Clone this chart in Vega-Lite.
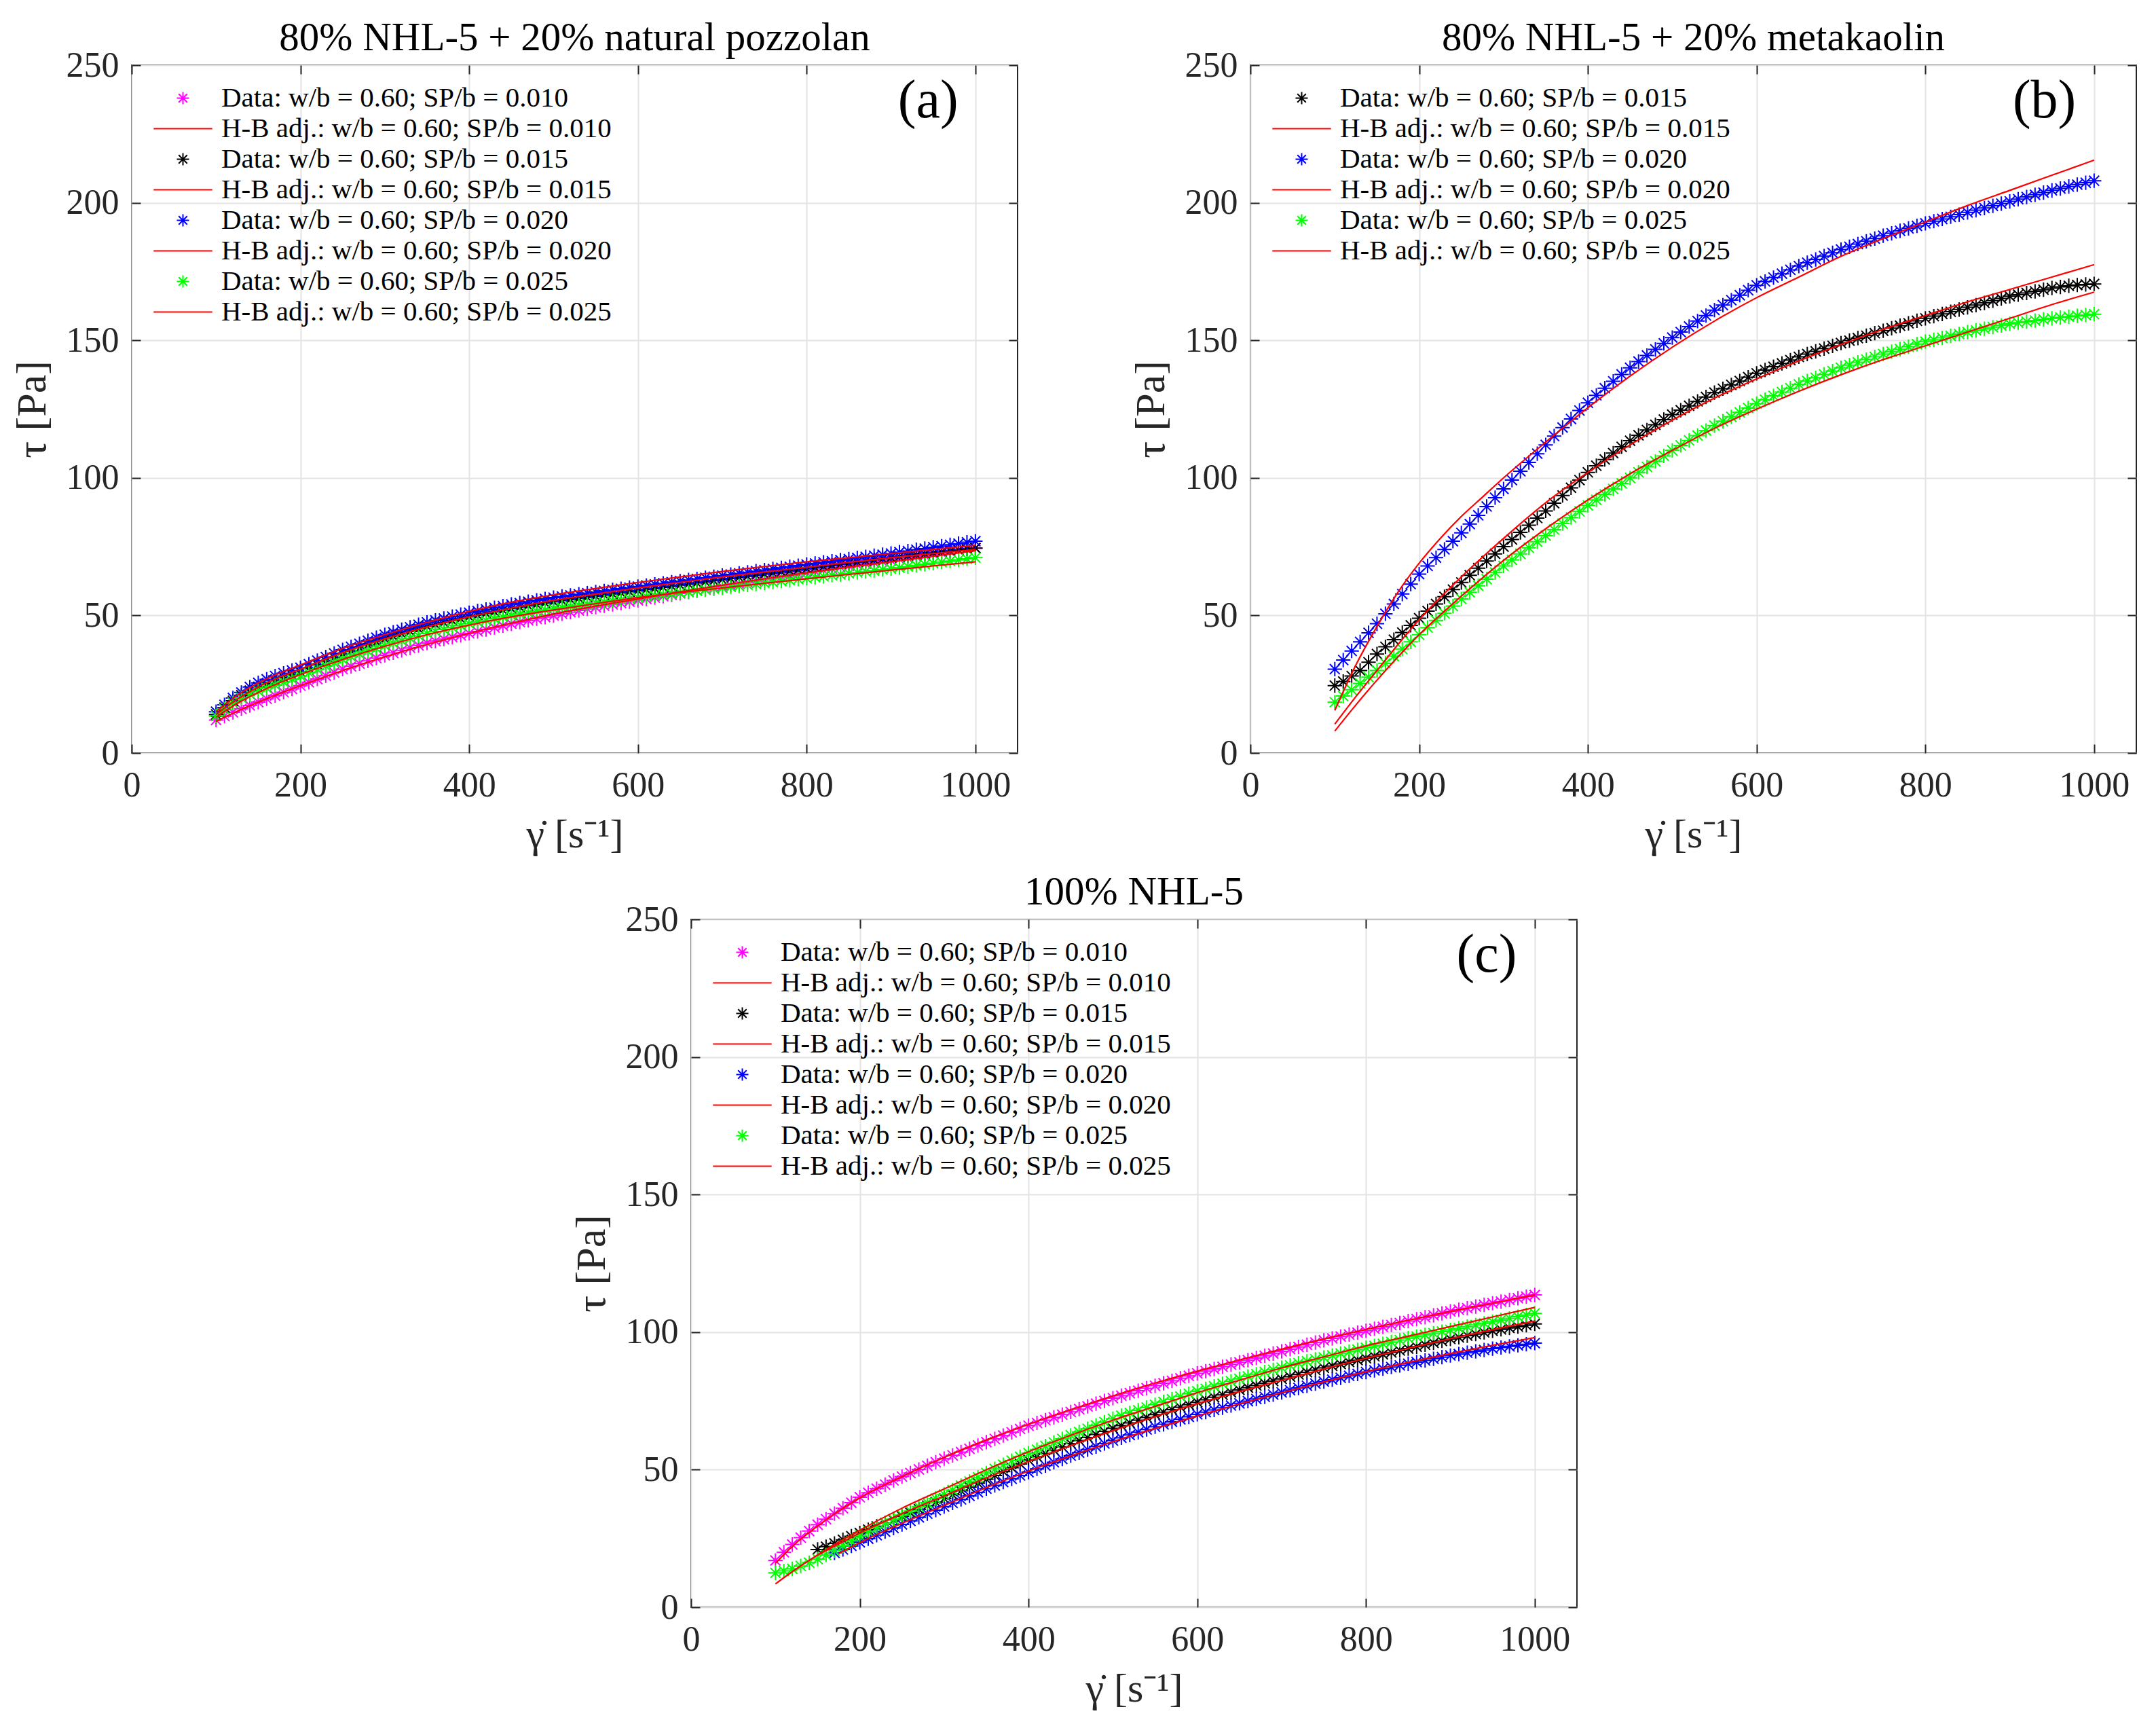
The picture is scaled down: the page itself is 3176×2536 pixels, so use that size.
{
  "$schema": "https://vega.github.io/schema/vega-lite/v6.json",
  "background": "white",
  "padding": {"left": 15, "top": 26, "right": 5, "bottom": 5},
  "datasets": {
    "aD": [
      {"s":"D010","x":100,"y":12},{"s":"D010","x":110,"y":13.4},{"s":"D010","x":120,"y":14.8},{"s":"D010","x":130,"y":16.1},{"s":"D010","x":140,"y":17.3},{"s":"D010","x":150,"y":18.5},{"s":"D010","x":160,"y":19.7},{"s":"D010","x":170,"y":20.9},{"s":"D010","x":180,"y":22.1},{"s":"D010","x":190,"y":23.3},
      {"s":"D010","x":200,"y":24.5},{"s":"D010","x":210,"y":25.7},{"s":"D010","x":220,"y":26.9},{"s":"D010","x":230,"y":28.1},{"s":"D010","x":240,"y":29.3},{"s":"D010","x":250,"y":30.5},{"s":"D010","x":260,"y":31.5},{"s":"D010","x":270,"y":32.5},{"s":"D010","x":280,"y":33.5},{"s":"D010","x":290,"y":34.5},
      {"s":"D010","x":300,"y":35.5},{"s":"D010","x":310,"y":36.4},{"s":"D010","x":320,"y":37.3},{"s":"D010","x":330,"y":38.2},{"s":"D010","x":340,"y":39.1},{"s":"D010","x":350,"y":40},{"s":"D010","x":360,"y":40.7},{"s":"D010","x":370,"y":41.4},{"s":"D010","x":380,"y":42.1},{"s":"D010","x":390,"y":42.8},
      {"s":"D010","x":400,"y":43.5},{"s":"D010","x":410,"y":44.2},{"s":"D010","x":420,"y":44.9},{"s":"D010","x":430,"y":45.6},{"s":"D010","x":440,"y":46.3},{"s":"D010","x":450,"y":47},{"s":"D010","x":460,"y":47.6},{"s":"D010","x":470,"y":48.2},{"s":"D010","x":480,"y":48.8},{"s":"D010","x":490,"y":49.4},
      {"s":"D010","x":500,"y":50},{"s":"D010","x":510,"y":50.6},{"s":"D010","x":520,"y":51.2},{"s":"D010","x":530,"y":51.8},{"s":"D010","x":540,"y":52.4},{"s":"D010","x":550,"y":53},{"s":"D010","x":560,"y":53.5},{"s":"D010","x":570,"y":54},{"s":"D010","x":580,"y":54.5},{"s":"D010","x":590,"y":55},
      {"s":"D010","x":600,"y":55.5},{"s":"D010","x":610,"y":56},{"s":"D010","x":620,"y":56.5},{"s":"D010","x":630,"y":57},{"s":"D010","x":640,"y":57.5},{"s":"D010","x":650,"y":58},{"s":"D010","x":660,"y":58.5},{"s":"D010","x":670,"y":59},{"s":"D010","x":680,"y":59.5},{"s":"D010","x":690,"y":60},
      {"s":"D010","x":700,"y":60.5},{"s":"D010","x":710,"y":61},{"s":"D010","x":720,"y":61.5},{"s":"D010","x":730,"y":62},{"s":"D010","x":740,"y":62.5},{"s":"D010","x":750,"y":63},{"s":"D010","x":760,"y":63.5},{"s":"D010","x":770,"y":64},{"s":"D010","x":780,"y":64.5},{"s":"D010","x":790,"y":65},
      {"s":"D010","x":800,"y":65.5},{"s":"D010","x":810,"y":66},{"s":"D010","x":820,"y":66.5},{"s":"D010","x":830,"y":67},{"s":"D010","x":840,"y":67.5},{"s":"D010","x":850,"y":68},{"s":"D010","x":860,"y":68.4},{"s":"D010","x":870,"y":68.8},{"s":"D010","x":880,"y":69.2},{"s":"D010","x":890,"y":69.6},
      {"s":"D010","x":900,"y":70},{"s":"D010","x":910,"y":70.5},{"s":"D010","x":920,"y":70.9},{"s":"D010","x":930,"y":71.4},{"s":"D010","x":940,"y":71.8},{"s":"D010","x":950,"y":72.3},{"s":"D010","x":960,"y":72.7},{"s":"D010","x":970,"y":73.2},{"s":"D010","x":980,"y":73.6},{"s":"D010","x":990,"y":74.1},{"s":"D010","x":1000,"y":74.5},

      {"s":"D015","x":100,"y":14},{"s":"D015","x":110,"y":16.5},{"s":"D015","x":120,"y":19},{"s":"D015","x":130,"y":21},{"s":"D015","x":140,"y":22.7},{"s":"D015","x":150,"y":24},{"s":"D015","x":160,"y":25.2},{"s":"D015","x":170,"y":26.3},{"s":"D015","x":180,"y":27.4},{"s":"D015","x":190,"y":28.4},
      {"s":"D015","x":200,"y":29.5},{"s":"D015","x":210,"y":30.8},{"s":"D015","x":220,"y":32.1},{"s":"D015","x":230,"y":33.4},{"s":"D015","x":240,"y":34.7},{"s":"D015","x":250,"y":36},{"s":"D015","x":260,"y":37.1},{"s":"D015","x":270,"y":38.2},{"s":"D015","x":280,"y":39.3},{"s":"D015","x":290,"y":40.4},
      {"s":"D015","x":300,"y":41.5},{"s":"D015","x":310,"y":42.4},{"s":"D015","x":320,"y":43.3},{"s":"D015","x":330,"y":44.2},{"s":"D015","x":340,"y":45.1},{"s":"D015","x":350,"y":46},{"s":"D015","x":360,"y":46.7},{"s":"D015","x":370,"y":47.4},{"s":"D015","x":380,"y":48.1},{"s":"D015","x":390,"y":48.8},
      {"s":"D015","x":400,"y":49.5},{"s":"D015","x":410,"y":50.1},{"s":"D015","x":420,"y":50.7},{"s":"D015","x":430,"y":51.3},{"s":"D015","x":440,"y":51.9},{"s":"D015","x":450,"y":52.5},{"s":"D015","x":460,"y":53},{"s":"D015","x":470,"y":53.5},{"s":"D015","x":480,"y":54},{"s":"D015","x":490,"y":54.5},
      {"s":"D015","x":500,"y":55},{"s":"D015","x":510,"y":55.4},{"s":"D015","x":520,"y":55.8},{"s":"D015","x":530,"y":56.2},{"s":"D015","x":540,"y":56.6},{"s":"D015","x":550,"y":57},{"s":"D015","x":560,"y":57.4},{"s":"D015","x":570,"y":57.8},{"s":"D015","x":580,"y":58.2},{"s":"D015","x":590,"y":58.6},
      {"s":"D015","x":600,"y":59},{"s":"D015","x":610,"y":59.4},{"s":"D015","x":620,"y":59.8},{"s":"D015","x":630,"y":60.2},{"s":"D015","x":640,"y":60.6},{"s":"D015","x":650,"y":61},{"s":"D015","x":660,"y":61.4},{"s":"D015","x":670,"y":61.8},{"s":"D015","x":680,"y":62.2},{"s":"D015","x":690,"y":62.6},
      {"s":"D015","x":700,"y":63},{"s":"D015","x":710,"y":63.4},{"s":"D015","x":720,"y":63.8},{"s":"D015","x":730,"y":64.2},{"s":"D015","x":740,"y":64.6},{"s":"D015","x":750,"y":65},{"s":"D015","x":760,"y":65.4},{"s":"D015","x":770,"y":65.8},{"s":"D015","x":780,"y":66.2},{"s":"D015","x":790,"y":66.6},
      {"s":"D015","x":800,"y":67},{"s":"D015","x":810,"y":67.4},{"s":"D015","x":820,"y":67.8},{"s":"D015","x":830,"y":68.2},{"s":"D015","x":840,"y":68.6},{"s":"D015","x":850,"y":69},{"s":"D015","x":860,"y":69.4},{"s":"D015","x":870,"y":69.8},{"s":"D015","x":880,"y":70.2},{"s":"D015","x":890,"y":70.6},
      {"s":"D015","x":900,"y":71},{"s":"D015","x":910,"y":71.4},{"s":"D015","x":920,"y":71.7},{"s":"D015","x":930,"y":72.1},{"s":"D015","x":940,"y":72.4},{"s":"D015","x":950,"y":72.8},{"s":"D015","x":960,"y":73.1},{"s":"D015","x":970,"y":73.5},{"s":"D015","x":980,"y":73.8},{"s":"D015","x":990,"y":74.2},{"s":"D015","x":1000,"y":74.5},

      {"s":"D020","x":100,"y":15},{"s":"D020","x":110,"y":17.5},{"s":"D020","x":120,"y":20},{"s":"D020","x":130,"y":22},{"s":"D020","x":140,"y":24},{"s":"D020","x":150,"y":25.5},{"s":"D020","x":160,"y":26.8},{"s":"D020","x":170,"y":28},{"s":"D020","x":180,"y":29},{"s":"D020","x":190,"y":30},
      {"s":"D020","x":200,"y":31},{"s":"D020","x":210,"y":32.3},{"s":"D020","x":220,"y":33.6},{"s":"D020","x":230,"y":34.9},{"s":"D020","x":240,"y":36.2},{"s":"D020","x":250,"y":37.5},{"s":"D020","x":260,"y":38.6},{"s":"D020","x":270,"y":39.7},{"s":"D020","x":280,"y":40.8},{"s":"D020","x":290,"y":41.9},
      {"s":"D020","x":300,"y":43},{"s":"D020","x":310,"y":43.9},{"s":"D020","x":320,"y":44.8},{"s":"D020","x":330,"y":45.7},{"s":"D020","x":340,"y":46.6},{"s":"D020","x":350,"y":47.5},{"s":"D020","x":360,"y":48.2},{"s":"D020","x":370,"y":48.9},{"s":"D020","x":380,"y":49.6},{"s":"D020","x":390,"y":50.3},
      {"s":"D020","x":400,"y":51},{"s":"D020","x":410,"y":51.6},{"s":"D020","x":420,"y":52.2},{"s":"D020","x":430,"y":52.8},{"s":"D020","x":440,"y":53.4},{"s":"D020","x":450,"y":54},{"s":"D020","x":460,"y":54.5},{"s":"D020","x":470,"y":55},{"s":"D020","x":480,"y":55.5},{"s":"D020","x":490,"y":56},
      {"s":"D020","x":500,"y":56.5},{"s":"D020","x":510,"y":56.9},{"s":"D020","x":520,"y":57.3},{"s":"D020","x":530,"y":57.7},{"s":"D020","x":540,"y":58.1},{"s":"D020","x":550,"y":58.5},{"s":"D020","x":560,"y":58.9},{"s":"D020","x":570,"y":59.3},{"s":"D020","x":580,"y":59.7},{"s":"D020","x":590,"y":60.1},
      {"s":"D020","x":600,"y":60.5},{"s":"D020","x":610,"y":60.9},{"s":"D020","x":620,"y":61.3},{"s":"D020","x":630,"y":61.7},{"s":"D020","x":640,"y":62.1},{"s":"D020","x":650,"y":62.5},{"s":"D020","x":660,"y":62.9},{"s":"D020","x":670,"y":63.3},{"s":"D020","x":680,"y":63.7},{"s":"D020","x":690,"y":64.1},
      {"s":"D020","x":700,"y":64.5},{"s":"D020","x":710,"y":64.9},{"s":"D020","x":720,"y":65.3},{"s":"D020","x":730,"y":65.7},{"s":"D020","x":740,"y":66.1},{"s":"D020","x":750,"y":66.5},{"s":"D020","x":760,"y":66.9},{"s":"D020","x":770,"y":67.3},{"s":"D020","x":780,"y":67.7},{"s":"D020","x":790,"y":68.1},
      {"s":"D020","x":800,"y":68.5},{"s":"D020","x":810,"y":68.9},{"s":"D020","x":820,"y":69.3},{"s":"D020","x":830,"y":69.7},{"s":"D020","x":840,"y":70.1},{"s":"D020","x":850,"y":70.5},{"s":"D020","x":860,"y":70.9},{"s":"D020","x":870,"y":71.3},{"s":"D020","x":880,"y":71.7},{"s":"D020","x":890,"y":72.1},
      {"s":"D020","x":900,"y":72.5},{"s":"D020","x":910,"y":73},{"s":"D020","x":920,"y":73.4},{"s":"D020","x":930,"y":73.9},{"s":"D020","x":940,"y":74.3},{"s":"D020","x":950,"y":74.8},{"s":"D020","x":960,"y":75.2},{"s":"D020","x":970,"y":75.7},{"s":"D020","x":980,"y":76.1},{"s":"D020","x":990,"y":76.6},{"s":"D020","x":1000,"y":77},

      {"s":"D025","x":100,"y":13.5},{"s":"D025","x":110,"y":16},{"s":"D025","x":120,"y":18.2},{"s":"D025","x":130,"y":20},{"s":"D025","x":140,"y":21.4},{"s":"D025","x":150,"y":22.5},{"s":"D025","x":160,"y":23.6},{"s":"D025","x":170,"y":24.7},{"s":"D025","x":180,"y":25.8},{"s":"D025","x":190,"y":26.9},
      {"s":"D025","x":200,"y":28},{"s":"D025","x":210,"y":29.2},{"s":"D025","x":220,"y":30.4},{"s":"D025","x":230,"y":31.6},{"s":"D025","x":240,"y":32.8},{"s":"D025","x":250,"y":34},{"s":"D025","x":260,"y":35},{"s":"D025","x":270,"y":36},{"s":"D025","x":280,"y":37},{"s":"D025","x":290,"y":38},
      {"s":"D025","x":300,"y":39},{"s":"D025","x":310,"y":39.9},{"s":"D025","x":320,"y":40.8},{"s":"D025","x":330,"y":41.7},{"s":"D025","x":340,"y":42.6},{"s":"D025","x":350,"y":43.5},{"s":"D025","x":360,"y":44.2},{"s":"D025","x":370,"y":44.9},{"s":"D025","x":380,"y":45.6},{"s":"D025","x":390,"y":46.3},
      {"s":"D025","x":400,"y":47},{"s":"D025","x":410,"y":47.6},{"s":"D025","x":420,"y":48.2},{"s":"D025","x":430,"y":48.8},{"s":"D025","x":440,"y":49.4},{"s":"D025","x":450,"y":50},{"s":"D025","x":460,"y":50.5},{"s":"D025","x":470,"y":51},{"s":"D025","x":480,"y":51.5},{"s":"D025","x":490,"y":52},
      {"s":"D025","x":500,"y":52.5},{"s":"D025","x":510,"y":52.9},{"s":"D025","x":520,"y":53.3},{"s":"D025","x":530,"y":53.7},{"s":"D025","x":540,"y":54.1},{"s":"D025","x":550,"y":54.5},{"s":"D025","x":560,"y":54.9},{"s":"D025","x":570,"y":55.3},{"s":"D025","x":580,"y":55.7},{"s":"D025","x":590,"y":56.1},
      {"s":"D025","x":600,"y":56.5},{"s":"D025","x":610,"y":56.9},{"s":"D025","x":620,"y":57.2},{"s":"D025","x":630,"y":57.6},{"s":"D025","x":640,"y":57.9},{"s":"D025","x":650,"y":58.3},{"s":"D025","x":660,"y":58.6},{"s":"D025","x":670,"y":59},{"s":"D025","x":680,"y":59.3},{"s":"D025","x":690,"y":59.7},
      {"s":"D025","x":700,"y":60},{"s":"D025","x":710,"y":60.4},{"s":"D025","x":720,"y":60.7},{"s":"D025","x":730,"y":61.1},{"s":"D025","x":740,"y":61.4},{"s":"D025","x":750,"y":61.8},{"s":"D025","x":760,"y":62.1},{"s":"D025","x":770,"y":62.5},{"s":"D025","x":780,"y":62.8},{"s":"D025","x":790,"y":63.2},
      {"s":"D025","x":800,"y":63.5},{"s":"D025","x":810,"y":63.9},{"s":"D025","x":820,"y":64.2},{"s":"D025","x":830,"y":64.6},{"s":"D025","x":840,"y":64.9},{"s":"D025","x":850,"y":65.3},{"s":"D025","x":860,"y":65.6},{"s":"D025","x":870,"y":66},{"s":"D025","x":880,"y":66.3},{"s":"D025","x":890,"y":66.7},
      {"s":"D025","x":900,"y":67},{"s":"D025","x":910,"y":67.4},{"s":"D025","x":920,"y":67.8},{"s":"D025","x":930,"y":68.2},{"s":"D025","x":940,"y":68.6},{"s":"D025","x":950,"y":69},{"s":"D025","x":960,"y":69.4},{"s":"D025","x":970,"y":69.8},{"s":"D025","x":980,"y":70.2},{"s":"D025","x":990,"y":70.6},{"s":"D025","x":1000,"y":71}
    ],
    "aF": [
      {"s":"F010","x":100,"y":11.5},{"s":"F010","x":125,"y":15.2},{"s":"F010","x":150,"y":18.5},{"s":"F010","x":175,"y":21.6},{"s":"F010","x":200,"y":24.5},{"s":"F010","x":250,"y":30},{"s":"F010","x":300,"y":35},{"s":"F010","x":350,"y":39.5},{"s":"F010","x":400,"y":43.5},{"s":"F010","x":450,"y":47.2},{"s":"F010","x":500,"y":50.5},{"s":"F010","x":550,"y":53.4},{"s":"F010","x":600,"y":56},{"s":"F010","x":650,"y":58.6},{"s":"F010","x":700,"y":61},{"s":"F010","x":750,"y":63.3},{"s":"F010","x":800,"y":65.5},{"s":"F010","x":850,"y":67.6},{"s":"F010","x":900,"y":69.5},{"s":"F010","x":950,"y":71.5},{"s":"F010","x":1000,"y":73.5},
      {"s":"F015","x":100,"y":14},{"s":"F015","x":125,"y":19.5},{"s":"F015","x":150,"y":24},{"s":"F015","x":175,"y":27.5},{"s":"F015","x":200,"y":30.5},{"s":"F015","x":250,"y":36.5},{"s":"F015","x":300,"y":41.5},{"s":"F015","x":350,"y":45.8},{"s":"F015","x":400,"y":49.5},{"s":"F015","x":450,"y":52.7},{"s":"F015","x":500,"y":55.5},{"s":"F015","x":550,"y":57.8},{"s":"F015","x":600,"y":60},{"s":"F015","x":650,"y":62},{"s":"F015","x":700,"y":64},{"s":"F015","x":750,"y":65.8},{"s":"F015","x":800,"y":67.5},{"s":"F015","x":850,"y":69.3},{"s":"F015","x":900,"y":71},{"s":"F015","x":950,"y":72.5},{"s":"F015","x":1000,"y":74},
      {"s":"F020","x":100,"y":15},{"s":"F020","x":125,"y":21},{"s":"F020","x":150,"y":25.5},{"s":"F020","x":175,"y":29},{"s":"F020","x":200,"y":32},{"s":"F020","x":250,"y":38},{"s":"F020","x":300,"y":43},{"s":"F020","x":350,"y":47.5},{"s":"F020","x":400,"y":51.5},{"s":"F020","x":450,"y":54.8},{"s":"F020","x":500,"y":57.5},{"s":"F020","x":550,"y":59.8},{"s":"F020","x":600,"y":62},{"s":"F020","x":650,"y":64},{"s":"F020","x":700,"y":66},{"s":"F020","x":750,"y":67.8},{"s":"F020","x":800,"y":69.5},{"s":"F020","x":850,"y":71},{"s":"F020","x":900,"y":72.5},{"s":"F020","x":950,"y":74},{"s":"F020","x":1000,"y":75.5},
      {"s":"F025","x":100,"y":13},{"s":"F025","x":125,"y":18},{"s":"F025","x":150,"y":22},{"s":"F025","x":175,"y":25.5},{"s":"F025","x":200,"y":28.5},{"s":"F025","x":250,"y":34},{"s":"F025","x":300,"y":38.8},{"s":"F025","x":350,"y":43},{"s":"F025","x":400,"y":46.5},{"s":"F025","x":450,"y":49.5},{"s":"F025","x":500,"y":52},{"s":"F025","x":550,"y":54.3},{"s":"F025","x":600,"y":56.5},{"s":"F025","x":650,"y":58.3},{"s":"F025","x":700,"y":60},{"s":"F025","x":750,"y":61.7},{"s":"F025","x":800,"y":63.3},{"s":"F025","x":850,"y":64.9},{"s":"F025","x":900,"y":66.5},{"s":"F025","x":950,"y":68},{"s":"F025","x":1000,"y":69.5}
    ],
    "bD": [
      {"s":"D015","x":100,"y":24.5},{"s":"D015","x":110,"y":26},{"s":"D015","x":120,"y":28},{"s":"D015","x":130,"y":30},{"s":"D015","x":140,"y":33},{"s":"D015","x":150,"y":36},{"s":"D015","x":160,"y":38.6},{"s":"D015","x":170,"y":41.2},{"s":"D015","x":180,"y":43.8},{"s":"D015","x":190,"y":46.4},
      {"s":"D015","x":200,"y":49},{"s":"D015","x":210,"y":51.6},{"s":"D015","x":220,"y":54.2},{"s":"D015","x":230,"y":56.8},{"s":"D015","x":240,"y":59.4},{"s":"D015","x":250,"y":62},{"s":"D015","x":260,"y":64.6},{"s":"D015","x":270,"y":67.2},{"s":"D015","x":280,"y":69.8},{"s":"D015","x":290,"y":72.4},
      {"s":"D015","x":300,"y":75},{"s":"D015","x":310,"y":77.6},{"s":"D015","x":320,"y":80.2},{"s":"D015","x":330,"y":82.8},{"s":"D015","x":340,"y":85.4},{"s":"D015","x":350,"y":88},{"s":"D015","x":360,"y":90.8},{"s":"D015","x":370,"y":93.6},{"s":"D015","x":380,"y":96.4},{"s":"D015","x":390,"y":99.2},
      {"s":"D015","x":400,"y":102},{"s":"D015","x":410,"y":104.4},{"s":"D015","x":420,"y":106.7},{"s":"D015","x":430,"y":109},{"s":"D015","x":440,"y":111.3},{"s":"D015","x":450,"y":113.5},{"s":"D015","x":460,"y":115.5},{"s":"D015","x":470,"y":117.4},{"s":"D015","x":480,"y":119.3},{"s":"D015","x":490,"y":121.2},
      {"s":"D015","x":500,"y":123},{"s":"D015","x":510,"y":124.6},{"s":"D015","x":520,"y":126.2},{"s":"D015","x":530,"y":127.8},{"s":"D015","x":540,"y":129.4},{"s":"D015","x":550,"y":131},{"s":"D015","x":560,"y":132.4},{"s":"D015","x":570,"y":133.8},{"s":"D015","x":580,"y":135.2},{"s":"D015","x":590,"y":136.6},
      {"s":"D015","x":600,"y":138},{"s":"D015","x":610,"y":139.2},{"s":"D015","x":620,"y":140.4},{"s":"D015","x":630,"y":141.6},{"s":"D015","x":640,"y":142.8},{"s":"D015","x":650,"y":144},{"s":"D015","x":660,"y":145},{"s":"D015","x":670,"y":146},{"s":"D015","x":680,"y":147},{"s":"D015","x":690,"y":148},
      {"s":"D015","x":700,"y":149},{"s":"D015","x":710,"y":149.9},{"s":"D015","x":720,"y":150.8},{"s":"D015","x":730,"y":151.7},{"s":"D015","x":740,"y":152.6},{"s":"D015","x":750,"y":153.5},{"s":"D015","x":760,"y":154.4},{"s":"D015","x":770,"y":155.3},{"s":"D015","x":780,"y":156.2},{"s":"D015","x":790,"y":157.1},
      {"s":"D015","x":800,"y":158},{"s":"D015","x":810,"y":158.8},{"s":"D015","x":820,"y":159.6},{"s":"D015","x":830,"y":160.4},{"s":"D015","x":840,"y":161.2},{"s":"D015","x":850,"y":162},{"s":"D015","x":860,"y":162.8},{"s":"D015","x":870,"y":163.6},{"s":"D015","x":880,"y":164.4},{"s":"D015","x":890,"y":165.2},
      {"s":"D015","x":900,"y":166},{"s":"D015","x":910,"y":166.6},{"s":"D015","x":920,"y":167.2},{"s":"D015","x":930,"y":167.8},{"s":"D015","x":940,"y":168.4},{"s":"D015","x":950,"y":169},{"s":"D015","x":960,"y":169.4},{"s":"D015","x":970,"y":169.8},{"s":"D015","x":980,"y":170.1},{"s":"D015","x":990,"y":170.3},{"s":"D015","x":1000,"y":170.5},

      {"s":"D020","x":100,"y":30.5},{"s":"D020","x":110,"y":33.8},{"s":"D020","x":120,"y":37.1},{"s":"D020","x":130,"y":40.4},{"s":"D020","x":140,"y":43.7},{"s":"D020","x":150,"y":47},{"s":"D020","x":160,"y":50.6},{"s":"D020","x":170,"y":54.2},{"s":"D020","x":180,"y":57.8},{"s":"D020","x":190,"y":61.4},
      {"s":"D020","x":200,"y":65},{"s":"D020","x":210,"y":68},{"s":"D020","x":220,"y":71},{"s":"D020","x":230,"y":74},{"s":"D020","x":240,"y":77},{"s":"D020","x":250,"y":80},{"s":"D020","x":260,"y":83.2},{"s":"D020","x":270,"y":86.4},{"s":"D020","x":280,"y":89.6},{"s":"D020","x":290,"y":92.8},
      {"s":"D020","x":300,"y":96},{"s":"D020","x":310,"y":99.2},{"s":"D020","x":320,"y":102.4},{"s":"D020","x":330,"y":105.6},{"s":"D020","x":340,"y":108.8},{"s":"D020","x":350,"y":112},{"s":"D020","x":360,"y":115.2},{"s":"D020","x":370,"y":118.3},{"s":"D020","x":380,"y":121.4},{"s":"D020","x":390,"y":124.5},
      {"s":"D020","x":400,"y":127.3},{"s":"D020","x":410,"y":130},{"s":"D020","x":420,"y":132.6},{"s":"D020","x":430,"y":135.1},{"s":"D020","x":440,"y":137.6},{"s":"D020","x":450,"y":140},{"s":"D020","x":460,"y":142.3},{"s":"D020","x":470,"y":144.5},{"s":"D020","x":480,"y":146.7},{"s":"D020","x":490,"y":148.9},
      {"s":"D020","x":500,"y":151},{"s":"D020","x":510,"y":153},{"s":"D020","x":520,"y":155},{"s":"D020","x":530,"y":157},{"s":"D020","x":540,"y":159},{"s":"D020","x":550,"y":161},{"s":"D020","x":560,"y":162.8},{"s":"D020","x":570,"y":164.6},{"s":"D020","x":580,"y":166.4},{"s":"D020","x":590,"y":168.2},
      {"s":"D020","x":600,"y":170},{"s":"D020","x":610,"y":171.4},{"s":"D020","x":620,"y":172.8},{"s":"D020","x":630,"y":174.2},{"s":"D020","x":640,"y":175.6},{"s":"D020","x":650,"y":177},{"s":"D020","x":660,"y":178.2},{"s":"D020","x":670,"y":179.4},{"s":"D020","x":680,"y":180.6},{"s":"D020","x":690,"y":181.8},
      {"s":"D020","x":700,"y":183},{"s":"D020","x":710,"y":184},{"s":"D020","x":720,"y":185},{"s":"D020","x":730,"y":186},{"s":"D020","x":740,"y":187},{"s":"D020","x":750,"y":188},{"s":"D020","x":760,"y":188.9},{"s":"D020","x":770,"y":189.8},{"s":"D020","x":780,"y":190.7},{"s":"D020","x":790,"y":191.6},
      {"s":"D020","x":800,"y":192.5},{"s":"D020","x":810,"y":193.3},{"s":"D020","x":820,"y":194.1},{"s":"D020","x":830,"y":194.9},{"s":"D020","x":840,"y":195.7},{"s":"D020","x":850,"y":196.5},{"s":"D020","x":860,"y":197.3},{"s":"D020","x":870,"y":198.1},{"s":"D020","x":880,"y":198.9},{"s":"D020","x":890,"y":199.7},
      {"s":"D020","x":900,"y":200.5},{"s":"D020","x":910,"y":201.3},{"s":"D020","x":920,"y":202.1},{"s":"D020","x":930,"y":202.9},{"s":"D020","x":940,"y":203.7},{"s":"D020","x":950,"y":204.5},{"s":"D020","x":960,"y":205.2},{"s":"D020","x":970,"y":205.9},{"s":"D020","x":980,"y":206.6},{"s":"D020","x":990,"y":207.3},{"s":"D020","x":1000,"y":208},

      {"s":"D025","x":100,"y":18.5},{"s":"D025","x":110,"y":20.7},{"s":"D025","x":120,"y":23},{"s":"D025","x":130,"y":25.3},{"s":"D025","x":140,"y":27.6},{"s":"D025","x":150,"y":30},{"s":"D025","x":160,"y":32.6},{"s":"D025","x":170,"y":35.2},{"s":"D025","x":180,"y":37.8},{"s":"D025","x":190,"y":40.4},
      {"s":"D025","x":200,"y":43},{"s":"D025","x":210,"y":45.6},{"s":"D025","x":220,"y":48.2},{"s":"D025","x":230,"y":50.8},{"s":"D025","x":240,"y":53.4},{"s":"D025","x":250,"y":56},{"s":"D025","x":260,"y":58.4},{"s":"D025","x":270,"y":60.8},{"s":"D025","x":280,"y":63.2},{"s":"D025","x":290,"y":65.6},
      {"s":"D025","x":300,"y":68},{"s":"D025","x":310,"y":70.2},{"s":"D025","x":320,"y":72.4},{"s":"D025","x":330,"y":74.6},{"s":"D025","x":340,"y":76.8},{"s":"D025","x":350,"y":79},{"s":"D025","x":360,"y":81.2},{"s":"D025","x":370,"y":83.4},{"s":"D025","x":380,"y":85.6},{"s":"D025","x":390,"y":87.8},
      {"s":"D025","x":400,"y":90},{"s":"D025","x":410,"y":92},{"s":"D025","x":420,"y":94},{"s":"D025","x":430,"y":96},{"s":"D025","x":440,"y":98},{"s":"D025","x":450,"y":100},{"s":"D025","x":460,"y":102},{"s":"D025","x":470,"y":104},{"s":"D025","x":480,"y":106},{"s":"D025","x":490,"y":108},
      {"s":"D025","x":500,"y":110},{"s":"D025","x":510,"y":111.8},{"s":"D025","x":520,"y":113.6},{"s":"D025","x":530,"y":115.4},{"s":"D025","x":540,"y":117.2},{"s":"D025","x":550,"y":119},{"s":"D025","x":560,"y":120.6},{"s":"D025","x":570,"y":122.2},{"s":"D025","x":580,"y":123.8},{"s":"D025","x":590,"y":125.4},
      {"s":"D025","x":600,"y":127},{"s":"D025","x":610,"y":128.4},{"s":"D025","x":620,"y":129.8},{"s":"D025","x":630,"y":131.2},{"s":"D025","x":640,"y":132.6},{"s":"D025","x":650,"y":134},{"s":"D025","x":660,"y":135.2},{"s":"D025","x":670,"y":136.4},{"s":"D025","x":680,"y":137.6},{"s":"D025","x":690,"y":138.8},
      {"s":"D025","x":700,"y":140},{"s":"D025","x":710,"y":141},{"s":"D025","x":720,"y":142},{"s":"D025","x":730,"y":143},{"s":"D025","x":740,"y":144},{"s":"D025","x":750,"y":145},{"s":"D025","x":760,"y":145.9},{"s":"D025","x":770,"y":146.8},{"s":"D025","x":780,"y":147.7},{"s":"D025","x":790,"y":148.6},
      {"s":"D025","x":800,"y":149.5},{"s":"D025","x":810,"y":150.2},{"s":"D025","x":820,"y":150.9},{"s":"D025","x":830,"y":151.6},{"s":"D025","x":840,"y":152.3},{"s":"D025","x":850,"y":153},{"s":"D025","x":860,"y":153.6},{"s":"D025","x":870,"y":154.2},{"s":"D025","x":880,"y":154.8},{"s":"D025","x":890,"y":155.4},
      {"s":"D025","x":900,"y":156},{"s":"D025","x":910,"y":156.4},{"s":"D025","x":920,"y":156.8},{"s":"D025","x":930,"y":157.2},{"s":"D025","x":940,"y":157.6},{"s":"D025","x":950,"y":158},{"s":"D025","x":960,"y":158.3},{"s":"D025","x":970,"y":158.6},{"s":"D025","x":980,"y":158.9},{"s":"D025","x":990,"y":159.2},{"s":"D025","x":1000,"y":159.5}
    ],
    "bF": [
      {"s":"F015","x":100,"y":10.5},{"s":"F015","x":125,"y":20.5},{"s":"F015","x":150,"y":30},{"s":"F015","x":175,"y":39.5},{"s":"F015","x":200,"y":48.5},{"s":"F015","x":250,"y":64},{"s":"F015","x":300,"y":78},{"s":"F015","x":350,"y":91},{"s":"F015","x":400,"y":102},{"s":"F015","x":450,"y":112},{"s":"F015","x":500,"y":121},{"s":"F015","x":550,"y":129},{"s":"F015","x":600,"y":136},{"s":"F015","x":650,"y":142.5},{"s":"F015","x":700,"y":148.5},{"s":"F015","x":750,"y":154},{"s":"F015","x":800,"y":159},{"s":"F015","x":850,"y":164},{"s":"F015","x":900,"y":168.5},{"s":"F015","x":950,"y":173},{"s":"F015","x":1000,"y":177.5},
      {"s":"F020","x":100,"y":15.5},{"s":"F020","x":125,"y":32},{"s":"F020","x":150,"y":46},{"s":"F020","x":175,"y":58.5},{"s":"F020","x":200,"y":69},{"s":"F020","x":225,"y":78},{"s":"F020","x":250,"y":86},{"s":"F020","x":275,"y":93},{"s":"F020","x":300,"y":100},{"s":"F020","x":350,"y":113},{"s":"F020","x":400,"y":125.5},{"s":"F020","x":450,"y":137},{"s":"F020","x":500,"y":147.5},{"s":"F020","x":550,"y":157},{"s":"F020","x":600,"y":165.5},{"s":"F020","x":650,"y":173},{"s":"F020","x":700,"y":180.5},{"s":"F020","x":750,"y":187},{"s":"F020","x":800,"y":193},{"s":"F020","x":850,"y":199},{"s":"F020","x":900,"y":204.5},{"s":"F020","x":950,"y":210},{"s":"F020","x":1000,"y":215.5},
      {"s":"F025","x":100,"y":8},{"s":"F025","x":125,"y":17.5},{"s":"F025","x":150,"y":26.5},{"s":"F025","x":175,"y":35},{"s":"F025","x":200,"y":43},{"s":"F025","x":250,"y":57},{"s":"F025","x":300,"y":70},{"s":"F025","x":350,"y":81.5},{"s":"F025","x":400,"y":92},{"s":"F025","x":450,"y":101.5},{"s":"F025","x":500,"y":110},{"s":"F025","x":550,"y":118},{"s":"F025","x":600,"y":125},{"s":"F025","x":650,"y":131.5},{"s":"F025","x":700,"y":137.5},{"s":"F025","x":750,"y":143},{"s":"F025","x":800,"y":148},{"s":"F025","x":850,"y":153},{"s":"F025","x":900,"y":158},{"s":"F025","x":950,"y":163},{"s":"F025","x":1000,"y":167.5}
    ],
    "cD": [
      {"s":"D010","x":100,"y":17},{"s":"D010","x":110,"y":20},{"s":"D010","x":120,"y":22.8},{"s":"D010","x":130,"y":25.3},{"s":"D010","x":140,"y":27.7},{"s":"D010","x":150,"y":30},{"s":"D010","x":160,"y":32},{"s":"D010","x":170,"y":34},{"s":"D010","x":180,"y":36},{"s":"D010","x":190,"y":38},
      {"s":"D010","x":200,"y":40},{"s":"D010","x":210,"y":41.6},{"s":"D010","x":220,"y":43.1},{"s":"D010","x":230,"y":44.6},{"s":"D010","x":240,"y":46.1},{"s":"D010","x":250,"y":47.5},{"s":"D010","x":260,"y":48.8},{"s":"D010","x":270,"y":50.1},{"s":"D010","x":280,"y":51.4},{"s":"D010","x":290,"y":52.7},
      {"s":"D010","x":300,"y":54},{"s":"D010","x":310,"y":55.2},{"s":"D010","x":320,"y":56.4},{"s":"D010","x":330,"y":57.6},{"s":"D010","x":340,"y":58.8},{"s":"D010","x":350,"y":60},{"s":"D010","x":360,"y":61.2},{"s":"D010","x":370,"y":62.4},{"s":"D010","x":380,"y":63.6},{"s":"D010","x":390,"y":64.8},
      {"s":"D010","x":400,"y":66},{"s":"D010","x":410,"y":67},{"s":"D010","x":420,"y":68},{"s":"D010","x":430,"y":69},{"s":"D010","x":440,"y":70},{"s":"D010","x":450,"y":71},{"s":"D010","x":460,"y":72},{"s":"D010","x":470,"y":73},{"s":"D010","x":480,"y":74},{"s":"D010","x":490,"y":75},
      {"s":"D010","x":500,"y":76},{"s":"D010","x":510,"y":76.9},{"s":"D010","x":520,"y":77.8},{"s":"D010","x":530,"y":78.7},{"s":"D010","x":540,"y":79.6},{"s":"D010","x":550,"y":80.5},{"s":"D010","x":560,"y":81.4},{"s":"D010","x":570,"y":82.3},{"s":"D010","x":580,"y":83.2},{"s":"D010","x":590,"y":84.1},
      {"s":"D010","x":600,"y":85},{"s":"D010","x":610,"y":85.8},{"s":"D010","x":620,"y":86.6},{"s":"D010","x":630,"y":87.4},{"s":"D010","x":640,"y":88.2},{"s":"D010","x":650,"y":89},{"s":"D010","x":660,"y":89.8},{"s":"D010","x":670,"y":90.6},{"s":"D010","x":680,"y":91.4},{"s":"D010","x":690,"y":92.2},
      {"s":"D010","x":700,"y":93},{"s":"D010","x":710,"y":93.8},{"s":"D010","x":720,"y":94.6},{"s":"D010","x":730,"y":95.4},{"s":"D010","x":740,"y":96.2},{"s":"D010","x":750,"y":97},{"s":"D010","x":760,"y":97.7},{"s":"D010","x":770,"y":98.4},{"s":"D010","x":780,"y":99.1},{"s":"D010","x":790,"y":99.8},
      {"s":"D010","x":800,"y":100.5},{"s":"D010","x":810,"y":101.2},{"s":"D010","x":820,"y":101.9},{"s":"D010","x":830,"y":102.6},{"s":"D010","x":840,"y":103.3},{"s":"D010","x":850,"y":104},{"s":"D010","x":860,"y":104.7},{"s":"D010","x":870,"y":105.4},{"s":"D010","x":880,"y":106.1},{"s":"D010","x":890,"y":106.8},
      {"s":"D010","x":900,"y":107.5},{"s":"D010","x":910,"y":108.1},{"s":"D010","x":920,"y":108.7},{"s":"D010","x":930,"y":109.3},{"s":"D010","x":940,"y":109.9},{"s":"D010","x":950,"y":110.5},{"s":"D010","x":960,"y":111.1},{"s":"D010","x":970,"y":111.7},{"s":"D010","x":980,"y":112.3},{"s":"D010","x":990,"y":112.9},{"s":"D010","x":1000,"y":113.5},

      {"s":"D015","x":150,"y":21},{"s":"D015","x":160,"y":22},{"s":"D015","x":170,"y":23.2},{"s":"D015","x":180,"y":24.5},{"s":"D015","x":190,"y":25.8},
      {"s":"D015","x":200,"y":27},{"s":"D015","x":210,"y":28.2},{"s":"D015","x":220,"y":29.4},{"s":"D015","x":230,"y":30.6},{"s":"D015","x":240,"y":31.8},{"s":"D015","x":250,"y":33},{"s":"D015","x":260,"y":34.3},{"s":"D015","x":270,"y":35.6},{"s":"D015","x":280,"y":36.9},{"s":"D015","x":290,"y":38.2},
      {"s":"D015","x":300,"y":39.5},{"s":"D015","x":310,"y":40.9},{"s":"D015","x":320,"y":42.3},{"s":"D015","x":330,"y":43.7},{"s":"D015","x":340,"y":45.1},{"s":"D015","x":350,"y":46.5},{"s":"D015","x":360,"y":47.9},{"s":"D015","x":370,"y":49.3},{"s":"D015","x":380,"y":50.7},{"s":"D015","x":390,"y":52.1},
      {"s":"D015","x":400,"y":53.5},{"s":"D015","x":410,"y":54.7},{"s":"D015","x":420,"y":55.9},{"s":"D015","x":430,"y":57.1},{"s":"D015","x":440,"y":58.3},{"s":"D015","x":450,"y":59.5},{"s":"D015","x":460,"y":60.6},{"s":"D015","x":470,"y":61.7},{"s":"D015","x":480,"y":62.8},{"s":"D015","x":490,"y":63.9},
      {"s":"D015","x":500,"y":65},{"s":"D015","x":510,"y":66},{"s":"D015","x":520,"y":67},{"s":"D015","x":530,"y":68},{"s":"D015","x":540,"y":69},{"s":"D015","x":550,"y":70},{"s":"D015","x":560,"y":70.9},{"s":"D015","x":570,"y":71.8},{"s":"D015","x":580,"y":72.7},{"s":"D015","x":590,"y":73.6},
      {"s":"D015","x":600,"y":74.5},{"s":"D015","x":610,"y":75.4},{"s":"D015","x":620,"y":76.3},{"s":"D015","x":630,"y":77.2},{"s":"D015","x":640,"y":78.1},{"s":"D015","x":650,"y":79},{"s":"D015","x":660,"y":79.8},{"s":"D015","x":670,"y":80.6},{"s":"D015","x":680,"y":81.4},{"s":"D015","x":690,"y":82.2},
      {"s":"D015","x":700,"y":83},{"s":"D015","x":710,"y":83.8},{"s":"D015","x":720,"y":84.6},{"s":"D015","x":730,"y":85.4},{"s":"D015","x":740,"y":86.2},{"s":"D015","x":750,"y":87},{"s":"D015","x":760,"y":87.7},{"s":"D015","x":770,"y":88.4},{"s":"D015","x":780,"y":89.1},{"s":"D015","x":790,"y":89.8},
      {"s":"D015","x":800,"y":90.5},{"s":"D015","x":810,"y":91.2},{"s":"D015","x":820,"y":91.9},{"s":"D015","x":830,"y":92.6},{"s":"D015","x":840,"y":93.3},{"s":"D015","x":850,"y":94},{"s":"D015","x":860,"y":94.7},{"s":"D015","x":870,"y":95.4},{"s":"D015","x":880,"y":96.1},{"s":"D015","x":890,"y":96.8},
      {"s":"D015","x":900,"y":97.5},{"s":"D015","x":910,"y":98.1},{"s":"D015","x":920,"y":98.7},{"s":"D015","x":930,"y":99.3},{"s":"D015","x":940,"y":99.9},{"s":"D015","x":950,"y":100.5},{"s":"D015","x":960,"y":101},{"s":"D015","x":970,"y":101.5},{"s":"D015","x":980,"y":102},{"s":"D015","x":990,"y":102.5},{"s":"D015","x":1000,"y":103},

      {"s":"D020","x":170,"y":19.8},{"s":"D020","x":180,"y":21},{"s":"D020","x":190,"y":22.3},
      {"s":"D020","x":200,"y":23.6},{"s":"D020","x":210,"y":24.9},{"s":"D020","x":220,"y":26.2},{"s":"D020","x":230,"y":27.5},{"s":"D020","x":240,"y":28.8},{"s":"D020","x":250,"y":30.1},{"s":"D020","x":260,"y":31.4},{"s":"D020","x":270,"y":32.7},{"s":"D020","x":280,"y":34},{"s":"D020","x":290,"y":35.3},
      {"s":"D020","x":300,"y":36.6},{"s":"D020","x":310,"y":37.9},{"s":"D020","x":320,"y":39.2},{"s":"D020","x":330,"y":40.5},{"s":"D020","x":340,"y":41.8},{"s":"D020","x":350,"y":43.1},{"s":"D020","x":360,"y":44.3},{"s":"D020","x":370,"y":45.5},{"s":"D020","x":380,"y":46.7},{"s":"D020","x":390,"y":47.9},
      {"s":"D020","x":400,"y":49.1},{"s":"D020","x":410,"y":50.3},{"s":"D020","x":420,"y":51.5},{"s":"D020","x":430,"y":52.7},{"s":"D020","x":440,"y":53.9},{"s":"D020","x":450,"y":55.1},{"s":"D020","x":460,"y":56.2},{"s":"D020","x":470,"y":57.3},{"s":"D020","x":480,"y":58.4},{"s":"D020","x":490,"y":59.5},
      {"s":"D020","x":500,"y":60.6},{"s":"D020","x":510,"y":61.6},{"s":"D020","x":520,"y":62.6},{"s":"D020","x":530,"y":63.6},{"s":"D020","x":540,"y":64.6},{"s":"D020","x":550,"y":65.6},{"s":"D020","x":560,"y":66.5},{"s":"D020","x":570,"y":67.4},{"s":"D020","x":580,"y":68.3},{"s":"D020","x":590,"y":69.2},
      {"s":"D020","x":600,"y":70.1},{"s":"D020","x":610,"y":70.9},{"s":"D020","x":620,"y":71.7},{"s":"D020","x":630,"y":72.5},{"s":"D020","x":640,"y":73.3},{"s":"D020","x":650,"y":74.1},{"s":"D020","x":660,"y":74.9},{"s":"D020","x":670,"y":75.7},{"s":"D020","x":680,"y":76.5},{"s":"D020","x":690,"y":77.3},
      {"s":"D020","x":700,"y":78.1},{"s":"D020","x":710,"y":78.9},{"s":"D020","x":720,"y":79.7},{"s":"D020","x":730,"y":80.5},{"s":"D020","x":740,"y":81.3},{"s":"D020","x":750,"y":82},{"s":"D020","x":760,"y":82.7},{"s":"D020","x":770,"y":83.4},{"s":"D020","x":780,"y":84.1},{"s":"D020","x":790,"y":84.8},
      {"s":"D020","x":800,"y":85.5},{"s":"D020","x":810,"y":86.1},{"s":"D020","x":820,"y":86.7},{"s":"D020","x":830,"y":87.3},{"s":"D020","x":840,"y":87.9},{"s":"D020","x":850,"y":88.5},{"s":"D020","x":860,"y":89.1},{"s":"D020","x":870,"y":89.7},{"s":"D020","x":880,"y":90.3},{"s":"D020","x":890,"y":90.9},
      {"s":"D020","x":900,"y":91.5},{"s":"D020","x":910,"y":92},{"s":"D020","x":920,"y":92.5},{"s":"D020","x":930,"y":93},{"s":"D020","x":940,"y":93.5},{"s":"D020","x":950,"y":94},{"s":"D020","x":960,"y":94.4},{"s":"D020","x":970,"y":94.8},{"s":"D020","x":980,"y":95.2},{"s":"D020","x":990,"y":95.6},{"s":"D020","x":1000,"y":96},

      {"s":"D025","x":100,"y":12.5},{"s":"D025","x":110,"y":13.2},{"s":"D025","x":120,"y":14},{"s":"D025","x":130,"y":15},{"s":"D025","x":140,"y":16.2},{"s":"D025","x":150,"y":17.5},{"s":"D025","x":160,"y":19},{"s":"D025","x":170,"y":20.6},{"s":"D025","x":180,"y":22.3},{"s":"D025","x":190,"y":24.1},
      {"s":"D025","x":200,"y":26},{"s":"D025","x":210,"y":27.5},{"s":"D025","x":220,"y":29},{"s":"D025","x":230,"y":30.5},{"s":"D025","x":240,"y":32},{"s":"D025","x":250,"y":33.5},{"s":"D025","x":260,"y":35},{"s":"D025","x":270,"y":36.5},{"s":"D025","x":280,"y":38},{"s":"D025","x":290,"y":39.5},
      {"s":"D025","x":300,"y":41},{"s":"D025","x":310,"y":42.6},{"s":"D025","x":320,"y":44.2},{"s":"D025","x":330,"y":45.7},{"s":"D025","x":340,"y":47.2},{"s":"D025","x":350,"y":48.8},{"s":"D025","x":360,"y":50.3},{"s":"D025","x":370,"y":51.8},{"s":"D025","x":380,"y":53.3},{"s":"D025","x":390,"y":54.7},
      {"s":"D025","x":400,"y":56},{"s":"D025","x":410,"y":57.3},{"s":"D025","x":420,"y":58.6},{"s":"D025","x":430,"y":59.9},{"s":"D025","x":440,"y":61.2},{"s":"D025","x":450,"y":62.5},{"s":"D025","x":460,"y":63.7},{"s":"D025","x":470,"y":64.9},{"s":"D025","x":480,"y":66.1},{"s":"D025","x":490,"y":67.3},
      {"s":"D025","x":500,"y":68.5},{"s":"D025","x":510,"y":69.6},{"s":"D025","x":520,"y":70.6},{"s":"D025","x":530,"y":71.6},{"s":"D025","x":540,"y":72.6},{"s":"D025","x":550,"y":73.6},{"s":"D025","x":560,"y":74.6},{"s":"D025","x":570,"y":75.6},{"s":"D025","x":580,"y":76.6},{"s":"D025","x":590,"y":77.6},
      {"s":"D025","x":600,"y":78.5},{"s":"D025","x":610,"y":79.4},{"s":"D025","x":620,"y":80.3},{"s":"D025","x":630,"y":81.2},{"s":"D025","x":640,"y":82.1},{"s":"D025","x":650,"y":83},{"s":"D025","x":660,"y":83.9},{"s":"D025","x":670,"y":84.7},{"s":"D025","x":680,"y":85.5},{"s":"D025","x":690,"y":86.3},
      {"s":"D025","x":700,"y":87.1},{"s":"D025","x":710,"y":87.9},{"s":"D025","x":720,"y":88.7},{"s":"D025","x":730,"y":89.4},{"s":"D025","x":740,"y":90.1},{"s":"D025","x":750,"y":90.8},{"s":"D025","x":760,"y":91.5},{"s":"D025","x":770,"y":92.2},{"s":"D025","x":780,"y":92.9},{"s":"D025","x":790,"y":93.6},
      {"s":"D025","x":800,"y":94.3},{"s":"D025","x":810,"y":95},{"s":"D025","x":820,"y":95.7},{"s":"D025","x":830,"y":96.4},{"s":"D025","x":840,"y":97.1},{"s":"D025","x":850,"y":97.8},{"s":"D025","x":860,"y":98.4},{"s":"D025","x":870,"y":99},{"s":"D025","x":880,"y":99.6},{"s":"D025","x":890,"y":100.2},
      {"s":"D025","x":900,"y":100.8},{"s":"D025","x":910,"y":101.4},{"s":"D025","x":920,"y":102},{"s":"D025","x":930,"y":102.6},{"s":"D025","x":940,"y":103.2},{"s":"D025","x":950,"y":103.8},{"s":"D025","x":960,"y":104.4},{"s":"D025","x":970,"y":105},{"s":"D025","x":980,"y":105.6},{"s":"D025","x":990,"y":106.2},{"s":"D025","x":1000,"y":106.8}
    ],
    "cF": [
      {"s":"F010","x":100,"y":16},{"s":"F010","x":125,"y":23.5},{"s":"F010","x":150,"y":29.5},{"s":"F010","x":175,"y":35},{"s":"F010","x":200,"y":39.8},{"s":"F010","x":250,"y":47.5},{"s":"F010","x":300,"y":54.5},{"s":"F010","x":350,"y":60.8},{"s":"F010","x":400,"y":66.5},{"s":"F010","x":450,"y":71.8},{"s":"F010","x":500,"y":76.8},{"s":"F010","x":550,"y":81.5},{"s":"F010","x":600,"y":85.8},{"s":"F010","x":650,"y":89.9},{"s":"F010","x":700,"y":93.8},{"s":"F010","x":750,"y":97.5},{"s":"F010","x":800,"y":101},{"s":"F010","x":850,"y":104.3},{"s":"F010","x":900,"y":107.5},{"s":"F010","x":950,"y":110.5},{"s":"F010","x":1000,"y":113.5},
      {"s":"F015","x":150,"y":19},{"s":"F015","x":175,"y":23},{"s":"F015","x":200,"y":27},{"s":"F015","x":250,"y":34},{"s":"F015","x":300,"y":40.5},{"s":"F015","x":350,"y":47},{"s":"F015","x":400,"y":53},{"s":"F015","x":450,"y":58.8},{"s":"F015","x":500,"y":64.2},{"s":"F015","x":550,"y":69.3},{"s":"F015","x":600,"y":74},{"s":"F015","x":650,"y":78.4},{"s":"F015","x":700,"y":82.5},{"s":"F015","x":750,"y":86.6},{"s":"F015","x":800,"y":90.5},{"s":"F015","x":850,"y":94.1},{"s":"F015","x":900,"y":97.6},{"s":"F015","x":950,"y":100.9},{"s":"F015","x":1000,"y":104},
      {"s":"F020","x":175,"y":19.5},{"s":"F020","x":200,"y":23.5},{"s":"F020","x":250,"y":30.5},{"s":"F020","x":300,"y":37},{"s":"F020","x":350,"y":43.5},{"s":"F020","x":400,"y":49.5},{"s":"F020","x":450,"y":55},{"s":"F020","x":500,"y":60.2},{"s":"F020","x":550,"y":65},{"s":"F020","x":600,"y":69.5},{"s":"F020","x":650,"y":73.9},{"s":"F020","x":700,"y":78},{"s":"F020","x":750,"y":81.9},{"s":"F020","x":800,"y":85.6},{"s":"F020","x":850,"y":89},{"s":"F020","x":900,"y":92.2},{"s":"F020","x":950,"y":95.2},{"s":"F020","x":1000,"y":98},
      {"s":"F025","x":100,"y":8.5},{"s":"F025","x":125,"y":14},{"s":"F025","x":150,"y":19},{"s":"F025","x":175,"y":23.7},{"s":"F025","x":200,"y":28},{"s":"F025","x":250,"y":36},{"s":"F025","x":300,"y":43},{"s":"F025","x":350,"y":50},{"s":"F025","x":400,"y":56.5},{"s":"F025","x":450,"y":62.5},{"s":"F025","x":500,"y":68},{"s":"F025","x":550,"y":73},{"s":"F025","x":600,"y":78},{"s":"F025","x":650,"y":82.5},{"s":"F025","x":700,"y":87},{"s":"F025","x":750,"y":91},{"s":"F025","x":800,"y":95},{"s":"F025","x":850,"y":98.5},{"s":"F025","x":900,"y":102},{"s":"F025","x":950,"y":105.5},{"s":"F025","x":1000,"y":109}
    ]
  },
  "vconcat": [
    {
      "hconcat": [
        {
          "width": 1305, "height": 1013,
          "title": {"text": "80% NHL-5 + 20% natural pozzolan", "font": "Liberation Serif"},
          "resolve": {"axis": {"x": "independent", "y": "independent"}},
          "layer": [
            {
              "data": {"name": "aD"},
              "mark": {"type": "point", "filled": false, "size": 450, "strokeWidth": 2, "opacity": 1},
              "encoding": {
                "x": {"field": "x", "type": "quantitative", "scale": {"domain": [0, 1050], "nice": false}, "axis": {"values": [0, 200, 400, 600, 800, 1000], "format": "d", "labelFont": "Liberation Serif", "titleFont": "Liberation Serif", "title": "\u03b3\u0307 [s\u207b\u00b9]"}},
                "y": {"field": "y", "type": "quantitative", "scale": {"domain": [0, 250], "nice": false}, "axis": {"values": [0, 50, 100, 150, 200, 250], "format": "d", "labelFont": "Liberation Serif", "titleFont": "Liberation Serif", "title": "\u03c4 [Pa]"}},
                "color": {"field": "s", "type": "nominal",
                  "scale": {"domain": ["D010", "F010", "D015", "F015", "D020", "F020", "D025", "F025"], "range": ["#ff00ff", "#ff0000", "#000000", "#ff0000", "#0000ff", "#ff0000", "#00ff00", "#ff0000"]},
                  "legend": {"title": null, "orient": "none", "legendX": 55, "legendY": 28, "labelExpr": "(slice(datum.label,0,1)=='D' ? 'Data: ' : 'H-B adj.: ') + 'w/b = 0.60; SP/b = 0.' + slice(datum.label,1)"}},
                "shape": {"field": "s", "type": "nominal",
                  "scale": {"domain": ["D010", "F010", "D015", "F015", "D020", "F020", "D025", "F025"], "range": ["M0,-1L0,1M-1,0L1,0M-0.7,-0.7L0.7,0.7M-0.7,0.7L0.7,-0.7", "M-4.8,0L4.8,0", "M0,-1L0,1M-1,0L1,0M-0.7,-0.7L0.7,0.7M-0.7,0.7L0.7,-0.7", "M-4.8,0L4.8,0", "M0,-1L0,1M-1,0L1,0M-0.7,-0.7L0.7,0.7M-0.7,0.7L0.7,-0.7", "M-4.8,0L4.8,0", "M0,-1L0,1M-1,0L1,0M-0.7,-0.7L0.7,0.7M-0.7,0.7L0.7,-0.7", "M-4.8,0L4.8,0"]}}
              }
            },
            {
              "data": {"name": "aF"},
              "mark": {"type": "line", "color": "#ff0000", "strokeWidth": 2.2, "interpolate": "monotone"},
              "encoding": {
                "x": {"field": "x", "type": "quantitative", "scale": {"domain": [0, 1050], "nice": false}, "axis": {"orient": "top", "values": [0, 200, 400, 600, 800, 1000], "labels": false, "title": null, "grid": false}},
                "y": {"field": "y", "type": "quantitative", "scale": {"domain": [0, 250], "nice": false}, "axis": {"orient": "right", "values": [0, 50, 100, 150, 200, 250], "labels": false, "title": null, "grid": false}},
                "detail": {"field": "s", "type": "nominal"}
              }
            },
            {
              "data": {"values": [{}]},
              "mark": {"type": "text", "fontSize": 80, "font": "Liberation Serif", "color": "#000000"},
              "encoding": {
                "x": {"datum": 944, "type": "quantitative", "axis": null},
                "y": {"datum": 237, "type": "quantitative", "axis": null},
                "text": {"value": "(a)"}
              }
            }
          ]
        },
        {
          "width": 1305, "height": 1013,
          "title": {"text": "80% NHL-5 + 20% metakaolin", "font": "Liberation Serif"},
          "resolve": {"axis": {"x": "independent", "y": "independent"}},
          "layer": [
            {
              "data": {"name": "bD"},
              "mark": {"type": "point", "filled": false, "size": 450, "strokeWidth": 2, "opacity": 1},
              "encoding": {
                "x": {"field": "x", "type": "quantitative", "scale": {"domain": [0, 1050], "nice": false}, "axis": {"values": [0, 200, 400, 600, 800, 1000], "format": "d", "labelFont": "Liberation Serif", "titleFont": "Liberation Serif", "title": "\u03b3\u0307 [s\u207b\u00b9]"}},
                "y": {"field": "y", "type": "quantitative", "scale": {"domain": [0, 250], "nice": false}, "axis": {"values": [0, 50, 100, 150, 200, 250], "format": "d", "labelFont": "Liberation Serif", "titleFont": "Liberation Serif", "title": "\u03c4 [Pa]"}},
                "color": {"field": "s", "type": "nominal",
                  "scale": {"domain": ["D015", "F015", "D020", "F020", "D025", "F025"], "range": ["#000000", "#ff0000", "#0000ff", "#ff0000", "#00ff00", "#ff0000"]},
                  "legend": {"title": null, "orient": "none", "legendX": 55, "legendY": 28, "labelExpr": "(slice(datum.label,0,1)=='D' ? 'Data: ' : 'H-B adj.: ') + 'w/b = 0.60; SP/b = 0.' + slice(datum.label,1)"}},
                "shape": {"field": "s", "type": "nominal",
                  "scale": {"domain": ["D015", "F015", "D020", "F020", "D025", "F025"], "range": ["M0,-1L0,1M-1,0L1,0M-0.7,-0.7L0.7,0.7M-0.7,0.7L0.7,-0.7", "M-4.8,0L4.8,0", "M0,-1L0,1M-1,0L1,0M-0.7,-0.7L0.7,0.7M-0.7,0.7L0.7,-0.7", "M-4.8,0L4.8,0", "M0,-1L0,1M-1,0L1,0M-0.7,-0.7L0.7,0.7M-0.7,0.7L0.7,-0.7", "M-4.8,0L4.8,0"]}}
              }
            },
            {
              "data": {"name": "bF"},
              "mark": {"type": "line", "color": "#ff0000", "strokeWidth": 2.2, "interpolate": "monotone"},
              "encoding": {
                "x": {"field": "x", "type": "quantitative", "scale": {"domain": [0, 1050], "nice": false}, "axis": {"orient": "top", "values": [0, 200, 400, 600, 800, 1000], "labels": false, "title": null, "grid": false}},
                "y": {"field": "y", "type": "quantitative", "scale": {"domain": [0, 250], "nice": false}, "axis": {"orient": "right", "values": [0, 50, 100, 150, 200, 250], "labels": false, "title": null, "grid": false}},
                "detail": {"field": "s", "type": "nominal"}
              }
            },
            {
              "data": {"values": [{}]},
              "mark": {"type": "text", "fontSize": 80, "font": "Liberation Serif", "color": "#000000"},
              "encoding": {
                "x": {"datum": 941, "type": "quantitative", "axis": null},
                "y": {"datum": 237, "type": "quantitative", "axis": null},
                "text": {"value": "(b)"}
              }
            }
          ]
        }
      ],
      "spacing": 162,
      "resolve": {"scale": {"color": "independent", "shape": "independent"}, "legend": {"color": "independent", "shape": "independent"}}
    },
    {
      "width": 1305, "height": 1013,
      "title": {"text": "100% NHL-5", "font": "Liberation Serif"},
      "resolve": {"axis": {"x": "independent", "y": "independent"}},
      "layer": [
        {
          "data": {"name": "cD"},
          "mark": {"type": "point", "filled": false, "size": 450, "strokeWidth": 2, "opacity": 1},
          "encoding": {
            "x": {"field": "x", "type": "quantitative", "scale": {"domain": [0, 1050], "nice": false}, "axis": {"values": [0, 200, 400, 600, 800, 1000], "format": "d", "labelFont": "Liberation Serif", "titleFont": "Liberation Serif", "title": "\u03b3\u0307 [s\u207b\u00b9]"}},
            "y": {"field": "y", "type": "quantitative", "scale": {"domain": [0, 250], "nice": false}, "axis": {"values": [0, 50, 100, 150, 200, 250], "format": "d", "labelFont": "Liberation Serif", "titleFont": "Liberation Serif", "title": "\u03c4 [Pa]"}},
            "color": {"field": "s", "type": "nominal",
              "scale": {"domain": ["D010", "F010", "D015", "F015", "D020", "F020", "D025", "F025"], "range": ["#ff00ff", "#ff0000", "#000000", "#ff0000", "#0000ff", "#ff0000", "#00ff00", "#ff0000"]},
              "legend": {"title": null, "orient": "none", "legendX": 55, "legendY": 28, "labelExpr": "(slice(datum.label,0,1)=='D' ? 'Data: ' : 'H-B adj.: ') + 'w/b = 0.60; SP/b = 0.' + slice(datum.label,1)"}},
            "shape": {"field": "s", "type": "nominal",
              "scale": {"domain": ["D010", "F010", "D015", "F015", "D020", "F020", "D025", "F025"], "range": ["M0,-1L0,1M-1,0L1,0M-0.7,-0.7L0.7,0.7M-0.7,0.7L0.7,-0.7", "M-4.8,0L4.8,0", "M0,-1L0,1M-1,0L1,0M-0.7,-0.7L0.7,0.7M-0.7,0.7L0.7,-0.7", "M-4.8,0L4.8,0", "M0,-1L0,1M-1,0L1,0M-0.7,-0.7L0.7,0.7M-0.7,0.7L0.7,-0.7", "M-4.8,0L4.8,0", "M0,-1L0,1M-1,0L1,0M-0.7,-0.7L0.7,0.7M-0.7,0.7L0.7,-0.7", "M-4.8,0L4.8,0"]}}
          }
        },
        {
          "data": {"name": "cF"},
          "mark": {"type": "line", "color": "#ff0000", "strokeWidth": 2.2, "interpolate": "monotone"},
          "encoding": {
            "x": {"field": "x", "type": "quantitative", "scale": {"domain": [0, 1050], "nice": false}, "axis": {"orient": "top", "values": [0, 200, 400, 600, 800, 1000], "labels": false, "title": null, "grid": false}},
            "y": {"field": "y", "type": "quantitative", "scale": {"domain": [0, 250], "nice": false}, "axis": {"orient": "right", "values": [0, 50, 100, 150, 200, 250], "labels": false, "title": null, "grid": false}},
            "detail": {"field": "s", "type": "nominal"}
          }
        },
        {
          "data": {"values": [{}]},
          "mark": {"type": "text", "fontSize": 80, "font": "Liberation Serif", "color": "#000000"},
          "encoding": {
            "x": {"datum": 943, "type": "quantitative", "axis": null},
            "y": {"datum": 237, "type": "quantitative", "axis": null},
            "text": {"value": "(c)"}
          }
        }
      ]
    }
  ],
  "spacing": 24,
  "center": true,
  "resolve": {"scale": {"color": "independent", "shape": "independent"}, "legend": {"color": "independent", "shape": "independent"}},
  "config": {
    "font": "Liberation Serif",
    "view": {"stroke": "#262626", "strokeWidth": 2},
    "axis": {
      "domain": false, "grid": true, "gridColor": "#e3e3e3", "gridWidth": 2,
      "ticks": true, "tickSize": -13, "tickColor": "#262626", "tickWidth": 2,
      "labelFont": "Liberation Serif", "labelFontSize": 52, "labelColor": "#262626", "labelFlush": false, "labelOverlap": false,
      "titleFont": "Liberation Serif", "titleFontWeight": "normal", "titleColor": "#262626"
    },
    "axisX": {"labelPadding": 35, "titlePadding": 18, "titleFontSize": 60},
    "axisY": {"labelPadding": 32, "titlePadding": 18, "titleFontSize": 62},
    "legend": {"labelFont": "Liberation Serif", "labelFontSize": 41, "labelColor": "#000000", "symbolSize": 324, "symbolStrokeWidth": 2, "rowPadding": 3, "labelOffset": 36, "padding": 0, "labelLimit": 0},
    "title": {"font": "Liberation Serif", "fontSize": 59, "fontWeight": "normal", "color": "#000000", "offset": -16}
  }
}
